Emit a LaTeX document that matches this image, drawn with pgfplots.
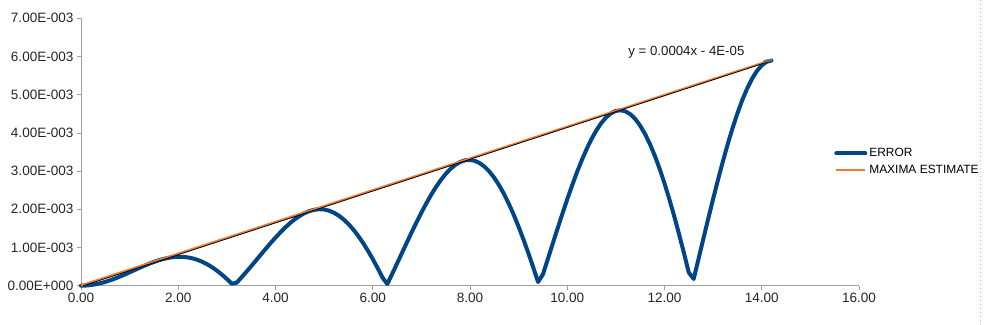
\documentclass[border=0pt]{standalone}
\usepackage{pgfplots}
\pgfplotsset{compat=1.18}
\usepackage{fontspec}
\setmainfont{Liberation Sans}
\definecolor{errblue}{HTML}{004586}
\definecolor{estorange}{RGB}{237,125,49}
\definecolor{axgray}{RGB}{160,160,160}
\begin{document}
\begin{tikzpicture}
\begin{axis}[
  at={(0,0)}, anchor=south west,
  scale only axis,
  width=778bp, height=267.4bp,
  xmin=0, xmax=16, ymin=0, ymax=0.007,
  axis x line=bottom, axis y line=left,
  axis line style={axgray, line width=0.8bp, -},
  xtick={0,2,4,6,8,10,12,14,16},
  xticklabels={0.00,2.00,4.00,6.00,8.00,10.00,12.00,14.00,16.00},
  ytick={0,0.001,0.002,0.003,0.004,0.005,0.006,0.007},
  yticklabels={0.00E+000,1.00E-003,2.00E-003,3.00E-003,4.00E-003,5.00E-003,6.00E-003,7.00E-003},
  tick align=outside, major tick length=4bp,
  tick style={axgray, line width=0.8bp},
  ticklabel style={font=\fontsize{13.6}{16}\selectfont, text=black!85},
  scaled y ticks=false,
  clip=false,
  legend style={at={(0.968,0.463)}, anchor=west, draw=none, fill=none,
    font=\fontsize{12}{14}\selectfont, row sep=3bp, inner sep=0pt},
  legend cell align=left,
  legend image code/.code={\draw[#1] (0bp,0bp) -- (29bp,0bp);},
]
\addplot[errblue, line width=4bp, line join=round, line cap=round] table[row sep=\\] {
x y\\
0.0 0\\ 0.1 0.0042e-3\\ 0.2 0.0165e-3\\ 0.3 0.0369e-3\\ 0.4 0.0648e-3\\
0.5 0.0997e-3\\ 0.6 0.1409e-3\\ 0.7 0.1876e-3\\ 0.8 0.2387e-3\\ 0.9 0.2933e-3\\
1.0 0.3501e-3\\ 1.1 0.4078e-3\\ 1.2 0.4653e-3\\ 1.3 0.5211e-3\\ 1.4 0.5739e-3\\
1.5 0.6224e-3\\ 1.6 0.6653e-3\\ 1.7 0.7013e-3\\ 1.8 0.7292e-3\\ 1.9 0.7480e-3\\
2.0 0.7565e-3\\ 2.1 0.7541e-3\\ 2.2 0.7399e-3\\ 2.3 0.7135e-3\\ 2.4 0.6744e-3\\
2.5 0.6224e-3\\ 2.6 0.5576e-3\\ 2.7 0.4801e-3\\ 2.8 0.3902e-3\\ 2.9 0.2886e-3\\
3.0 0.1761e-3\\ 3.1 0.0537e-3\\ 3.2 0.0777e-3\\ 3.3 0.2165e-3\\ 3.4 0.3614e-3\\
3.5 0.5108e-3\\ 3.6 0.6627e-3\\ 3.7 0.8155e-3\\ 3.8 0.9673e-3\\ 3.9 1.1159e-3\\
4.0 1.2593e-3\\ 4.1 1.3957e-3\\ 4.2 1.5229e-3\\ 4.3 1.6389e-3\\ 4.4 1.7418e-3\\
4.5 1.8299e-3\\ 4.6 1.9015e-3\\ 4.7 1.9550e-3\\ 4.8 1.9892e-3\\ 4.9 2.0027e-3\\
5.0 1.9945e-3\\ 5.1 1.9642e-3\\ 5.2 1.9112e-3\\ 5.3 1.8351e-3\\ 5.4 1.7360e-3\\
5.5 1.6142e-3\\ 5.6 1.4707e-3\\ 5.7 1.3058e-3\\ 5.8 1.1210e-3\\ 5.9 0.9177e-3\\
6.0 0.6974e-3\\ 6.1 0.4623e-3\\ 6.2 0.2143e-3\\ 6.3 0.0440e-3\\ 6.4 0.3102e-3\\
6.5 0.5816e-3\\ 6.6 0.8553e-3\\ 6.7 1.1283e-3\\ 6.8 1.3977e-3\\ 6.9 1.6602e-3\\
7.0 1.9132e-3\\ 7.1 2.1532e-3\\ 7.2 2.3773e-3\\ 7.3 2.5825e-3\\ 7.4 2.7666e-3\\
7.5 2.9266e-3\\ 7.6 3.0601e-3\\ 7.7 3.1654e-3\\ 7.8 3.2399e-3\\ 7.9 3.2828e-3\\
8.0 3.2927e-3\\ 8.1 3.2682e-3\\ 8.2 3.2089e-3\\ 8.3 3.1151e-3\\ 8.4 2.9863e-3\\
8.5 2.8235e-3\\ 8.6 2.6274e-3\\ 8.7 2.3995e-3\\ 8.8 2.1412e-3\\ 8.9 1.8549e-3\\
9.0 1.5429e-3\\ 9.1 1.2080e-3\\ 9.2 0.8531e-3\\ 9.3 0.4817e-3\\ 9.4 0.0970e-3\\
9.5 0.2972e-3\\ 9.6 0.6961e-3\\ 9.7 1.0968e-3\\ 9.8 1.4941e-3\\ 9.9 1.8842e-3\\
10.0 2.2630e-3\\ 10.1 2.6264e-3\\ 10.2 2.9698e-3\\ 10.3 3.2894e-3\\ 10.4 3.5814e-3\\
10.5 3.8425e-3\\ 10.6 4.0692e-3\\ 10.7 4.2580e-3\\ 10.8 4.4070e-3\\ 10.9 4.5136e-3\\
11.0 4.5760e-3\\ 11.1 4.5922e-3\\ 11.2 4.5623e-3\\ 11.3 4.4864e-3\\ 11.4 4.3635e-3\\
11.5 4.1884e-3\\ 11.6 3.9705e-3\\ 11.7 3.7088e-3\\ 11.8 3.4043e-3\\ 11.9 3.0598e-3\\
12.0 2.6787e-3\\ 12.1 2.2631e-3\\ 12.2 1.8179e-3\\ 12.3 1.3468e-3\\ 12.4 0.8542e-3\\
12.5 0.3448e-3\\ 12.6 0.1761e-3\\ 12.7 0.7037e-3\\ 12.8 1.2327e-3\\ 12.9 1.7575e-3\\
13.0 2.2724e-3\\ 13.1 2.7722e-3\\ 13.2 3.2513e-3\\ 13.3 3.7048e-3\\ 13.4 4.1273e-3\\
13.5 4.5141e-3\\ 13.6 4.8610e-3\\ 13.7 5.1635e-3\\ 13.8 5.4176e-3\\ 13.9 5.6205e-3\\
14.0 5.7693e-3\\ 14.1 5.8621e-3\\ 14.2 5.8954e-3\\
};
\addlegendentry{ERROR}
\addplot[estorange, line width=2bp] table[row sep=\\] {
x y\\
0.0 0.01e-3\\ 14.2 5.91e-3\\
};
\addlegendentry{MAXIMA ESTIMATE}
\addplot[black, line width=0.8bp, forget plot] table[row sep=\\] {
x y\\
0.05 0\\ 14.2 5.89e-3\\
};
\addplot[black!55, line width=2.5bp, line cap=round, forget plot] table[row sep=\\] {
x y\\
14.05 5.875e-3\\ 14.2 5.91e-3\\
};
\node[font=\fontsize{13.3}{16}\selectfont, text=black!90] at (axis cs:12.45,0.00612) {y = 0.0004x - 4E-05};
\end{axis}
\useasboundingbox (-81bp,-39.3bp) rectangle (904bp,285.7bp);
\draw[black!25, dash pattern=on 1bp off 3bp, line width=0.8bp] (899bp,-39.3bp) -- (899bp,285.7bp);
\end{tikzpicture}
\end{document}
